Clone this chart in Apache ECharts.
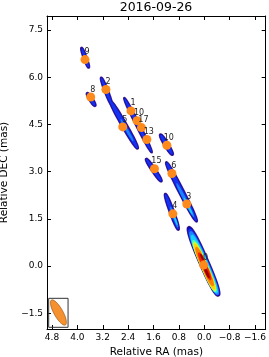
<!DOCTYPE html>
<html><head><meta charset="utf-8">
<script src="https://cdn.jsdelivr.net/npm/echarts@6/dist/echarts.min.js"></script>
<style>html,body{margin:0;padding:0;background:#fff}#c{width:269px;height:357px}</style>
</head><body><div id="c"></div><script>
const chartTitle = '2016-09-26';
const xName = 'Relative RA (mas)';
const yName = 'Relative DEC (mas)';
const xTicks = [4.8, 4.0, 3.2, 2.4, 1.6, 0.8, 0.0, -0.8, -1.6];
const yTicks = [-1.5, 0.0, 1.5, 3.0, 4.5, 6.0, 7.5];
const xRange = [-1.937, 4.958];
const yRange = [-2.0, 7.945];

// model components (orange points)
const compNames = ['9','2','8','1','10','17','5','13','10','15','6','3','4','0'];
const compRA  = [3.76, 3.10, 3.58, 2.31, 2.12, 1.98, 2.57, 1.81, 1.18, 1.57, 1.02, 0.55, 0.99, 0.02];
const compDEC = [6.56, 5.61, 5.37, 4.93, 4.62, 4.40, 4.42, 4.02, 3.84, 3.09, 2.94, 1.97, 1.66, 0.03];

// emission contours (ellipses): centre RA, DEC, half length, half width (mas), PA (deg), level
const blobRA      = [3.756,3.756, 3.566,3.566, 3.085,3.085, 2.532,2.532,2.437, 2.089,2.089, 1.193,1.193, 1.592,1.592, 0.718,0.718,0.601,0.506, 1.022,1.022,0.949,0.918, 0.022,0.016,0.006,0.000,-0.005,-0.010,-0.010,-0.010,-0.015,-0.085,0.073];
const blobDEC     = [6.619,6.619, 5.292,5.292, 5.556,5.556, 4.492,4.492,4.317, 4.476,4.476, 3.857,3.857, 3.048,3.048, 2.356,2.356,2.095,1.905, 1.724,1.724,1.556,1.492, 0.149,0.127,0.095,0.063,0.000,-0.016,-0.016,-0.016,-0.010,-0.222,0.286];
const blobHalfLen = [0.35,0.32, 0.254,0.23, 0.475,0.45, 0.887,0.86,0.40, 0.98,0.95, 0.39,0.36, 0.445,0.42, 1.07,1.04,0.60,0.30, 0.62,0.59,0.35,0.20, 1.198,1.15,1.10,1.01,0.90,0.85,0.80,0.68,0.48,0.18,0.11];
const blobHalfWid = [0.06,0.042, 0.066,0.047, 0.066,0.047, 0.09,0.07,0.04, 0.07,0.05, 0.076,0.055, 0.073,0.052, 0.09,0.07,0.048,0.03, 0.08,0.06,0.04,0.025, 0.15,0.14,0.131,0.123,0.116,0.11,0.104,0.094,0.075,0.045,0.033];
const blobPA      = [20,20, 32,32, 21,21, 29.7,29.7,29.7, 26.6,26.6, 31,31, 34,34, 27,27,27,27, 20,20,20,20, 23.4,23.4,23.4,23.4,23.4,23.4,23.4,23.4,23.4,23.4,23.4];
const blobLevel   = [1,2, 1,2, 1,2, 1,2,3, 1,2, 1,2, 1,2, 1,2,3,4, 1,2,3,4, 1,2,3,4,5,6,7,8,9,10,10];

// restoring beam: RA, DEC, half major, half minor, PA ; box corners
const beamEllipse = [4.598, -1.476, 0.453, 0.14, 29];
const beamBox = [4.905, -1.946, 4.294, -1.025];

const levelColors = ['#4b2283','#0a0ab4','#1632f0','#1a84ff','#18d0ff','#50ffb0','#c8ff40','#ffd800','#ff8000','#f02000','#9a0000'];
const rimColor = '#4b2283';
const FONT = 'DejaVu Sans';

function ellipsePts(api, ra, dec, hl, hw, pa, n) {
  const r = pa * Math.PI / 180, s = Math.sin(r), c = Math.cos(r);
  const e = 2 / n;
  const pts = [];
  for (let i = 0; i < 72; i++) {
    const t = i / 72 * 2 * Math.PI;
    const ct = Math.cos(t), st = Math.sin(t);
    const a = hl * Math.sign(ct) * Math.pow(Math.abs(ct), e);
    const b = hw * Math.sign(st) * Math.pow(Math.abs(st), e);
    pts.push(api.coord([ra + a * s + b * c, dec + a * c - b * s]));
  }
  return pts;
}
const fmt = v => { const s = Math.abs(v).toFixed(1); return v < -1e-9 ? '\u2212' + s : s; };

const blobs = blobRA.map((ra, i) => [ra, blobDEC[i], blobHalfLen[i], blobHalfWid[i], blobPA[i], blobLevel[i]])
  .sort((a, b) => a[5] - b[5]);
const rimBlobs = blobs.filter(b => b[5] === 1);

const chart = echarts.init(document.getElementById('c'), null, {renderer: 'canvas'});
const axisCommonX = {
  type: 'value', min: xRange[0], max: xRange[1], inverse: true,
  axisLine: {show: true, onZero: false, lineStyle: {color: '#000', width: 1}},
  axisTick: {show: true, inside: true, length: 4, customValues: xTicks, lineStyle: {color: '#000', width: 1}},
  splitLine: {show: false}
};
const axisCommonY = {
  type: 'value', min: yRange[0], max: yRange[1],
  axisLine: {show: true, onZero: false, lineStyle: {color: '#000', width: 1}},
  axisTick: {show: true, inside: true, length: 4, customValues: yTicks, lineStyle: {color: '#000', width: 1}},
  splitLine: {show: false}
};
chart.setOption({
  animation: false,
  backgroundColor: '#fff',
  title: {text: chartTitle, left: 156, top: 1, textAlign: 'center', padding: 0,
    textStyle: {fontFamily: FONT, fontSize: 12.5, fontWeight: 'normal', color: '#000'}},
  grid: {left: 47, right: 3.3, top: 16, bottom: 28, outerBoundsMode: 'none', containLabel: false},
  xAxis: [
    Object.assign({}, axisCommonX, {position: 'bottom',
      axisLabel: {show: true, customValues: xTicks, formatter: fmt, fontSize: 9, color: '#000', fontFamily: FONT, margin: 4},
      name: xName, nameLocation: 'middle', nameGap: 17,
      nameTextStyle: {fontFamily: FONT, fontSize: 10.5, color: '#000'}}),
    Object.assign({}, axisCommonX, {position: 'top', axisLabel: {show: false}})
  ],
  yAxis: [
    Object.assign({}, axisCommonY, {position: 'left',
      axisLabel: {show: true, customValues: yTicks, formatter: fmt, fontSize: 9, color: '#000', fontFamily: FONT, margin: 4},
      name: yName, nameLocation: 'middle', nameGap: 33,
      nameTextStyle: {fontFamily: FONT, fontSize: 10.5, color: '#000'}}),
    Object.assign({}, axisCommonY, {position: 'right', axisLabel: {show: false}})
  ],
  series: [
    {
      type: 'custom', xAxisIndex: 0, yAxisIndex: 0, z: 1,
      data: rimBlobs, encode: {x: 0, y: 1},
      renderItem: (params, api) => ({
        type: 'polygon',
        shape: {points: ellipsePts(api, api.value(0), api.value(1), api.value(2), api.value(3), api.value(4), 2.6)},
        style: {fill: rimColor, stroke: rimColor, lineWidth: 1.4}
      })
    },
    {
      type: 'custom', xAxisIndex: 0, yAxisIndex: 0, z: 2,
      data: blobs, encode: {x: 0, y: 1},
      renderItem: (params, api) => ({
        type: 'polygon',
        shape: {points: ellipsePts(api, api.value(0), api.value(1), api.value(2), api.value(3), api.value(4), 2.6)},
        style: {fill: levelColors[api.value(5)], stroke: null}
      })
    },
    {
      type: 'custom', xAxisIndex: 0, yAxisIndex: 0, z: 3,
      data: [[beamEllipse[0], beamEllipse[1]]], encode: {x: 0, y: 1},
      renderItem: (params, api) => {
        const p1 = api.coord([beamBox[0], beamBox[1]]);
        const p2 = api.coord([beamBox[2], beamBox[3]]);
        return {type: 'group', children: [
          {type: 'rect', shape: {x: Math.min(p1[0], p2[0]), y: Math.min(p1[1], p2[1]),
            width: Math.abs(p2[0] - p1[0]), height: Math.abs(p2[1] - p1[1])},
            style: {fill: 'rgba(0,0,0,0)', stroke: '#333', lineWidth: 1}},
          {type: 'polygon', shape: {points: ellipsePts(api, beamEllipse[0], beamEllipse[1], beamEllipse[2], beamEllipse[3], beamEllipse[4], 2)},
            style: {fill: '#f5922f', stroke: '#a0601e', lineWidth: 0.8}}
        ]};
      }
    },
    {
      type: 'scatter', xAxisIndex: 0, yAxisIndex: 0, z: 5,
      symbol: 'circle', symbolSize: 9,
      itemStyle: {color: '#ff8a1c', opacity: 1},
      data: compRA.map((ra, i) => ({name: compNames[i], value: [ra, compDEC[i]]})),
      label: {show: true, position: 'top', distance: 0, offset: [2, 1], formatter: p => p.name,
        fontFamily: FONT, fontSize: 8, color: '#222'}
    }
  ]
});
</script></body></html>
